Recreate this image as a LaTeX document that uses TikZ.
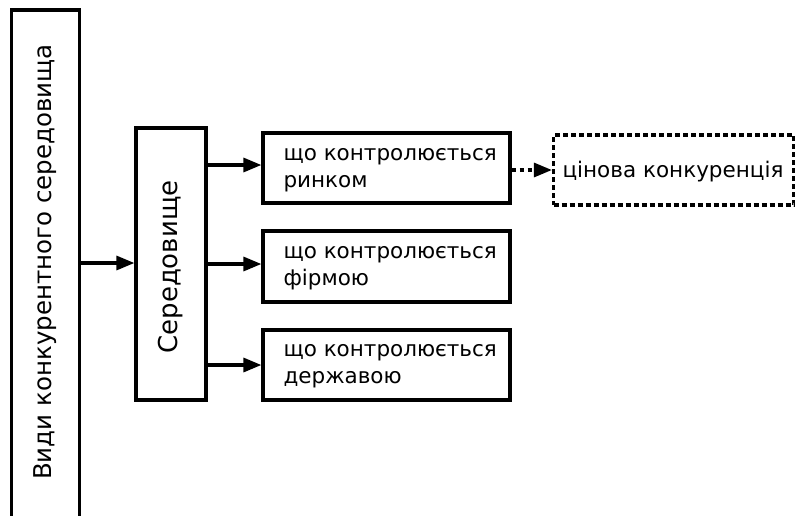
\documentclass[tikz,border=0pt]{standalone}
\usepackage{fontspec}
\setmainfont{DejaVu Sans}
\usetikzlibrary{arrows.meta}
\begin{document}
\begin{tikzpicture}[x=1pt,y=-1pt,
  box/.style={draw,line width=3.2pt,inner sep=0pt},
  lbl/.style={font=\fontsize{21.5}{27}\selectfont,align=left,anchor=west},
  arr/.style={line width=3.2pt,-{Triangle[length=18pt,width=14pt]}}]
\useasboundingbox (0,0) rectangle (797,515);
\node[box,minimum width=68pt,minimum height=508pt] (main) at (45.5,264) {};
\node[rotate=90,font=\fontsize{24.5}{28}\selectfont] (mainT) at (45.5,262) {Види конкурентного середовища};
\node[box,minimum width=70pt,minimum height=272pt] (env) at (171,264) {};
\node[rotate=90,font=\fontsize{26}{30}\selectfont] (envT) at (171,267) {Середовище};
\node[box,minimum width=247pt,minimum height=70pt] (b1) at (386.5,168) {};
\node[box,minimum width=247pt,minimum height=71pt] (b2) at (386.5,266.5) {};
\node[box,minimum width=247pt,minimum height=70pt] (b3) at (386.5,365) {};
\node[draw,dash pattern=on 5pt off 3pt,line width=3.2pt,inner sep=0pt,minimum width=240pt,minimum height=70pt] (b4) at (673.5,170) {};
\node[lbl] (t1) at (280,170) {що контролюється\\ринком};
\node[lbl] (t2) at (280,268) {що контролюється\\фірмою};
\node[lbl] (t3) at (280,366) {що контролюється\\державою};
\node[font=\fontsize{21.5}{27}\selectfont] (t4) at (673,172) {цінова конкуренція};
\draw[arr] (main.east |- 0,263) -- (env.west |- 0,263);
\draw[arr] (env.east |- 0,165) -- (b1.west |- 0,165);
\draw[arr] (env.east |- 0,264) -- (b2.west |- 0,264);
\draw[arr] (env.east |- 0,365) -- (b3.west |- 0,365);
\draw[arr,dash pattern=on 4pt off 4pt] (b1.east |- 0,170) -- (b4.west |- 0,170);
\end{tikzpicture}
\end{document}
